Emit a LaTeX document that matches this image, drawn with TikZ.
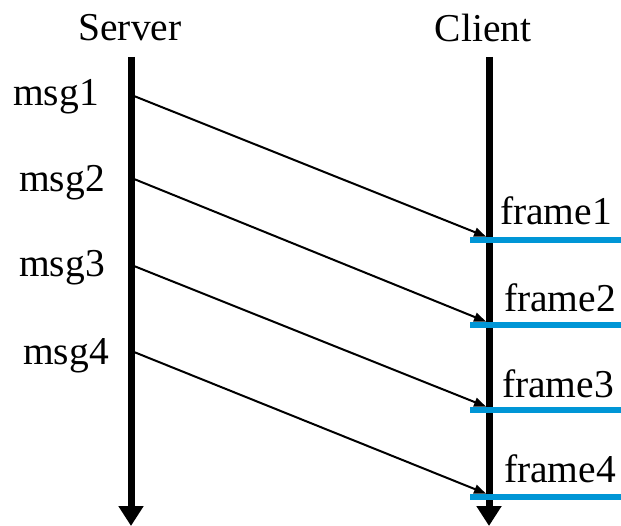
\documentclass[tikz,border=0pt]{standalone}
\usepackage{fontspec}
\setmainfont{Liberation Serif}
\usetikzlibrary{arrows.meta}
\definecolor{framecol}{RGB}{0,150,214}
\begin{document}
\begin{tikzpicture}[x=1pt,y=-1pt,
  lbl/.style={font=\fontsize{39.5}{39.5}\selectfont, inner sep=0pt, anchor=center},
  lifeline/.style={line width=7pt, -{Triangle[length=20pt,width=24pt]}},
  msgarrow/.style={line width=2pt, -{Triangle[length=12pt,width=9pt]}, shorten >=1pt},
  framebar/.style={line width=5.5pt, framecol}]
\useasboundingbox (0,0) rectangle (621,526);
% lifelines
\coordinate (stop) at (131,57);
\coordinate (sbot) at (131,526);
\coordinate (ctop) at (489,57);
\coordinate (cbot) at (489,526);
\draw[lifeline] (stop) -- (sbot);
\draw[lifeline] (ctop) -- (cbot);
\node[lbl] (server) at (130,28) {Server};
\node[lbl] (client) at (483,28) {Client};
% frame bars on the client side
\foreach \i/\y in {1/240,2/325,3/410,4/497}{
  \coordinate (fa\i) at (470,\y);
  \coordinate (fb\i) at (621,\y);
  \draw[framebar] (fa\i) -- (fb\i);
  \coordinate (ft\i) at (487,\y-3);
}
\node[lbl] (f1) at (556,211) {frame1};
\node[lbl] (f2) at (560,298) {frame2};
\node[lbl] (f3) at (558,384) {frame3};
\node[lbl] (f4) at (560,469) {frame4};
% messages sent by the server
\node[lbl] (m1) at (56,97) {msg1};
\node[lbl] (m2) at (62,183) {msg2};
\node[lbl] (m3) at (62,268) {msg3};
\node[lbl] (m4) at (66,356) {msg4};
\foreach \i/\y in {1/96,2/179,3/266,4/352}{
  \coordinate (ms\i) at (134,\y);
  \draw[msgarrow] (ms\i) -- (ft\i);
}
\end{tikzpicture}
\end{document}
